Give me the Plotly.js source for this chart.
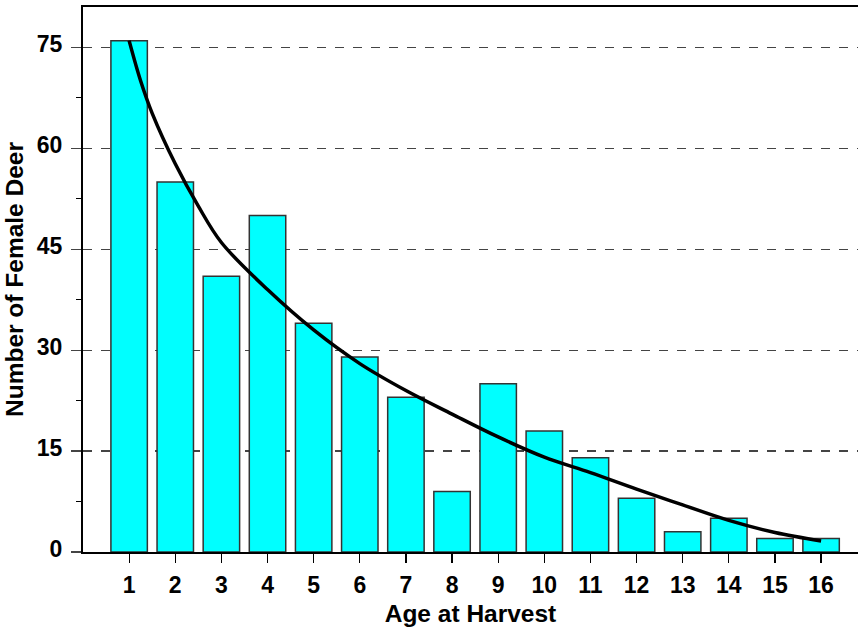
<!DOCTYPE html>
<html>
<head>
<meta charset="utf-8">
<script src="https://cdn.plot.ly/plotly-3.0.1.min.js"></script>
<style>html,body{margin:0;padding:0;background:#fff;}#chart{width:858px;height:631px;}</style>
</head>
<body>
<div id="chart"></div>
<script>
const ages = [1,2,3,4,5,6,7,8,9,10,11,12,13,14,15,16];
const deerCounts = [76,55,41,50,34,29,23,9,25,18,14,8,3,5,2,2];
const curveX = [1,1.25,1.5,2,2.5,3,4,5,6,7,8,9,10,11,12,13,14,15,16];
const curveY = [76,70,65.2,57.7,51.4,46,39,33,28,24,20.5,17.1,14.1,11.8,9.35,7,4.7,2.9,1.65];
const yTicks = [0,15,30,45,60,75];

const font = 'Liberation Sans, Arial, sans-serif';
const traces = [
  {type:'bar', x:ages, y:deerCounts, width:0.79,
   marker:{color:'#00FFFF', line:{color:'#333333', width:1.5}}, hoverinfo:'x+y'},
  {type:'scatter', mode:'lines', x:curveX, y:curveY,
   line:{color:'#000', width:3.5, shape:'spline', smoothing:1}}
];
const layout = {
  width:858, height:631, showlegend:false,
  paper_bgcolor:'#fff', plot_bgcolor:'#fff',
  margin:{l:83, r:0, t:7, b:79, pad:0},
  font:{family:font, color:'#000'},
  bargap:0.2,
  xaxis:{range:[0,16.8], tickvals:ages, ticktext:ages.map(String),
    ticks:'outside', ticklen:9, tickwidth:1.2, tickcolor:'#000',
    showline:true, linecolor:'#000', linewidth:2, mirror:true,
    showgrid:false, zeroline:false,
    tickfont:{family:font, size:23, color:'#000', weight:'bold'},
    ticklabelstandoff:2,
    title:{text:'<b>Age at Harvest</b>', font:{family:font, size:24.5, color:'#000'}, standoff:8}},
  yaxis:{range:[0,81], tickvals:yTicks, ticktext:yTicks.map(String),
    ticks:'outside', ticklen:10, tickwidth:1.2, tickcolor:'#444',
    showline:true, linecolor:'#000', linewidth:2,
    showgrid:true, gridcolor:'#444', gridwidth:1.2, griddash:'dash',
    zeroline:false,
    minor:{dtick:7.5, tick0:0, ticks:'outside', ticklen:5, tickcolor:'#000', showgrid:false},
    tickfont:{family:font, size:23, color:'#000', weight:'bold'},
    ticklabelstandoff:4, ticklabelshift:-3,
    title:{text:'<b>Number of Female Deer</b>', font:{family:font, size:24.5, color:'#000'}, standoff:6}}
};
Plotly.newPlot('chart', traces, layout, {displayModeBar:false, staticPlot:true});
</script>
</body>
</html>
